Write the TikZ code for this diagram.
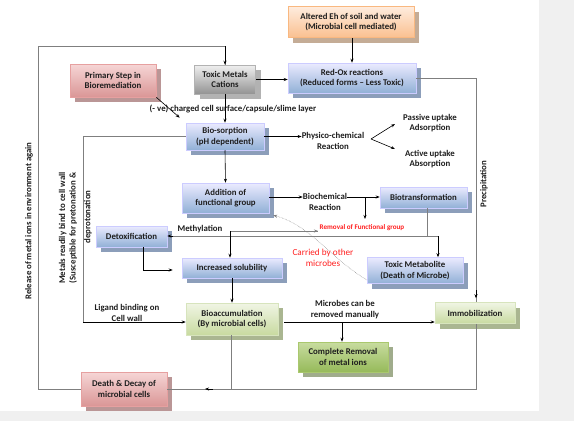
\documentclass[tikz,border=0pt]{standalone}
\usepackage{fontspec}
\setmainfont{Carlito}[BoldFont={Carlito Bold}]
\usetikzlibrary{arrows.meta,shadows,calc}
\definecolor{bgg}{HTML}{F0F0F0}
\definecolor{txt}{HTML}{1E1E1E}
\definecolor{redtxt}{HTML}{FF2020}
\definecolor{lin}{HTML}{7F7F7F}
\begin{document}
\begin{tikzpicture}[x=1pt,y={(0pt,-1pt)},
  font=\fontsize{8.8}{10.5}\selectfont\bfseries,
  basebox/.style={rectangle,align=center,text=txt,inner sep=1pt,line width=0.5pt},
  bluebox/.style={basebox,draw=blue!20!white,top color=blue!8!white,bottom color={rgb,255:red,145;green,176;blue,214},
     drop shadow={shadow xshift=5pt,shadow yshift=-5pt,fill={rgb,255:red,140;green,158;blue,186},opacity=1}},
  orangebox/.style={basebox,draw={rgb,255:red,249;green,184;blue,128},top color={rgb,255:red,254;green,236;blue,222},bottom color={rgb,255:red,250;green,192;blue,144},
     drop shadow={shadow xshift=5pt,shadow yshift=-5pt,fill={rgb,255:red,196;green,172;blue,150},opacity=1}},
  pinkbox/.style={basebox,draw={rgb,255:red,230;green,160;blue,160},top color={rgb,255:red,246;green,214;blue,214},bottom color={rgb,255:red,218;green,150;blue,150},
     drop shadow={shadow xshift=5pt,shadow yshift=-5pt,fill={rgb,255:red,186;green,150;blue,150},opacity=1}},
  graybox/.style={basebox,draw=gray!60,top color=gray!12,bottom color=gray!85,
     drop shadow={shadow xshift=5pt,shadow yshift=-5pt,fill=gray!60,opacity=1}},
  greenbox/.style={basebox,draw={rgb,255:red,215;green,228;blue,189},top color={rgb,255:red,240;green,245;blue,228},bottom color={rgb,255:red,200;green,218;blue,160},
     drop shadow={shadow xshift=5pt,shadow yshift=-5pt,fill={rgb,255:red,170;green,182;blue,145},opacity=1}},
  dgreenbox/.style={basebox,draw={rgb,255:red,170;green,200;blue,110},top color={rgb,255:red,200;green,220;blue,160},bottom color={rgb,255:red,150;green,186;blue,90},
     drop shadow={shadow xshift=5pt,shadow yshift=-5pt,fill={rgb,255:red,160;green,172;blue,140},opacity=1}},
  lbl/.style={align=center,text=txt,inner sep=0pt},
  redlbl/.style={align=center,text=redtxt,inner sep=0pt},
  arr/.style={-{Stealth[length=4pt,width=3pt]},line width=0.6pt,black},
  conn/.style={line width=0.7pt,draw=lin},
  carr/.style={conn,-{Stealth[length=4pt,width=3pt]}},
]
\useasboundingbox (0,0) rectangle (574,421);
\fill[bgg] (0,0) rectangle (574,421);
\fill[white] (0,0) rectangle (539,411);

% boxes
\node[orangebox,minimum width=126pt,minimum height=31pt] (eh) at (351,22) {Altered Eh of soil and water\\(Microbial cell mediated)};
\node[bluebox,minimum width=128pt,minimum height=30pt] (redox) at (352,78) {Red-Ox reactions\\(Reduced forms -- Less Toxic)};
\node[graybox,minimum width=61pt,minimum height=29pt] (toxic) at (225,79.5) {Toxic Metals\\Cations};
\node[pinkbox,minimum width=86pt,minimum height=33pt] (primary) at (113,80.5) {Primary Step in\\Bioremediation};
\node[bluebox,minimum width=78pt,minimum height=27pt] (biosorp) at (225,136.5) {Bio-sorption\\(pH dependent)};
\node[bluebox,minimum width=87pt,minimum height=30pt] (addition) at (225.5,198) {Addition of\\functional group};
\node[bluebox,minimum width=87pt,minimum height=21pt] (biotrans) at (423.5,197.5) {Biotransformation};
\node[bluebox,minimum width=96pt,minimum height=26pt] (toxmetab) at (415,270.5) {Toxic Metabolite\\(Death of Microbe)};
\node[bluebox,minimum width=71pt,minimum height=21pt] (detox) at (131.5,236.5) {Detoxification};
\node[bluebox,minimum width=100pt,minimum height=20pt] (incsol) at (232,268) {Increased solubility};
\node[greenbox,minimum width=92pt,minimum height=32pt] (bioacc) at (232,319) {Bioaccumulation\\(By microbial cells)};
\node[greenbox,minimum width=80pt,minimum height=21pt] (immob) at (475,313) {Immobilization};
\node[dgreenbox,minimum width=90pt,minimum height=30pt] (complete) at (343,357) {Complete Removal\\of metal ions};
\node[pinkbox,minimum width=86pt,minimum height=34pt] (death) at (124,389) {Death \& Decay of\\microbial cells};

% labels
\node[lbl] (charged) at (233,109) {(- ve) charged cell surface/capsule/slime layer};
\node[lbl] (physico) at (333,141) {Physico-chemical\\Reaction};
\node[lbl] (passive) at (430,123) {Passive uptake\\Adsorption};
\node[lbl] (active) at (430,159) {Active uptake\\Absorption};
\node[lbl] (biochem) at (325,202) {Biochemical\\Reaction};
\node[redlbl,font=\fontsize{7.1}{9}\selectfont\bfseries] (removal) at (362,227.5) {Removal of Functional group};
\node[redlbl,font=\fontsize{9.2}{11}\selectfont] (carried) at (323,258) {Carried by other\\microbes};
\node[lbl] (methyl) at (200,229) {Methylation};
\node[lbl] (ligand) at (127,313) {Ligand binding on\\Cell wall};
\node[lbl] (microbes) at (345,309.5) {Microbes can be\\removed manually};
\node[lbl,rotate=90] (release) at (29,221) {Release of metal ions in environment again};
\node[lbl,rotate=90] (metals) at (68,228) {Metals readily bind to cell wall\\(Susceptible for pretonation \&};
\node[lbl,rotate=90] (deprot) at (88,217) {deprotonation};
\node[lbl,rotate=90] (precip) at (484,184) {Precipitation};

% coordinates
\coordinate (c1) at (38,389);
\coordinate (c2) at (38,46);
\coordinate (c3) at (476,78);
\coordinate (c4) at (476,389);
\coordinate (c5) at (231,389);
\coordinate (c6) at (205,389);
\coordinate (v) at (371,139);
\coordinate (pa) at (395,124);
\coordinate (aa) at (395,149);
\coordinate (b1) at (83,136.5);
\coordinate (b2) at (83,322);
\coordinate (r1) at (365,197);
\coordinate (r2) at (365,219);
\coordinate (t0) at (427,208);
\coordinate (t1) at (427,236);
\coordinate (t2) at (438,236);
\coordinate (m1) at (230,231);
\coordinate (m2) at (318,231);
\coordinate (d1) at (143,247);
\coordinate (k1) at (284,322);
\coordinate (k2) at (342,322);
\coordinate (s1) at (367,280);

% connectors
\draw[conn] (death.west) -- (c1) -- (c2) -| (toxic.north);
\draw[arr] ($(c2-|toxic.north)+(0,0)$) -- (toxic.north);
\draw[arr] (toxic.east) -- (toxic.east -| redox.west);
\draw[arr] (eh.south -| redox.north) -- (redox.north);
\draw[conn] (redox.east |- c3) -- (c3) -- (c3 |- immob.north);
\draw[arr] ($(c3 |- immob.north)+(0,-12)$) -- ($(c3 |- immob.north)+(0,-4)$);
\draw[conn] (c3 |- immob.south) -- (c4) -- (c6);
\draw[conn] (c6) -- (death.east);
\draw[arr] ($(c6)+(8,0)$) -- (c6);
\draw[conn] (bioacc.south -| c5) -- (c5);
\draw[arr] (toxic.south) -- (biosorp.north);
\draw[arr] (primary.south east) -- ($(biosorp.north west)+(-6,-5)$);
\draw[arr] (biosorp.east) -- (physico.west |- biosorp.east);
\draw[arr] (v) -- (pa);
\draw[arr] (v) -- (aa);
\draw[conn] (biosorp.west) -- (b1) -- (b2);
\draw[arr] (b2) -- (b2 -| bioacc.west);
\draw[arr] (biosorp.south) -- (addition.north);
\draw[arr] (addition.east |- r1) -- (biochem.west |- r1);
\draw[arr] (biochem.east |- r1) -- (biotrans.west |- r1);
\draw[arr] (r1) -- (r2);
\draw[conn] (t0) -- (t1);
\draw[conn] (t2) -- ($(detox.east |- t2)+(6,0)$);
\draw[arr] ($(detox.east |- t2)+(6,0)$) -- (detox.east |- t2);
\draw[arr] (t2) -- (t2 |- toxmetab.north);
\draw[conn] (m1) -- (m2);
\draw[carr] ($(m2)+(-1,0)$) -- (m2);
\draw[arr] (m1) -- (m1 |- incsol.north);
\draw[arr] (d1) |- ($(incsol.west)+(-9,2)$);
\draw[arr] (incsol.south) -- (bioacc.north);
\draw[arr] (k1) -- (k1 -| immob.west);
\draw[arr] (k2) -- (k2 |- complete.north);
\draw[line width=0.5pt,draw=gray,densely dotted,-{Stealth[length=4pt,width=3pt]}] (s1) .. controls (330,258) and (310,225) .. ($(addition.south east)+(4,2)$);
\end{tikzpicture}
\end{document}
